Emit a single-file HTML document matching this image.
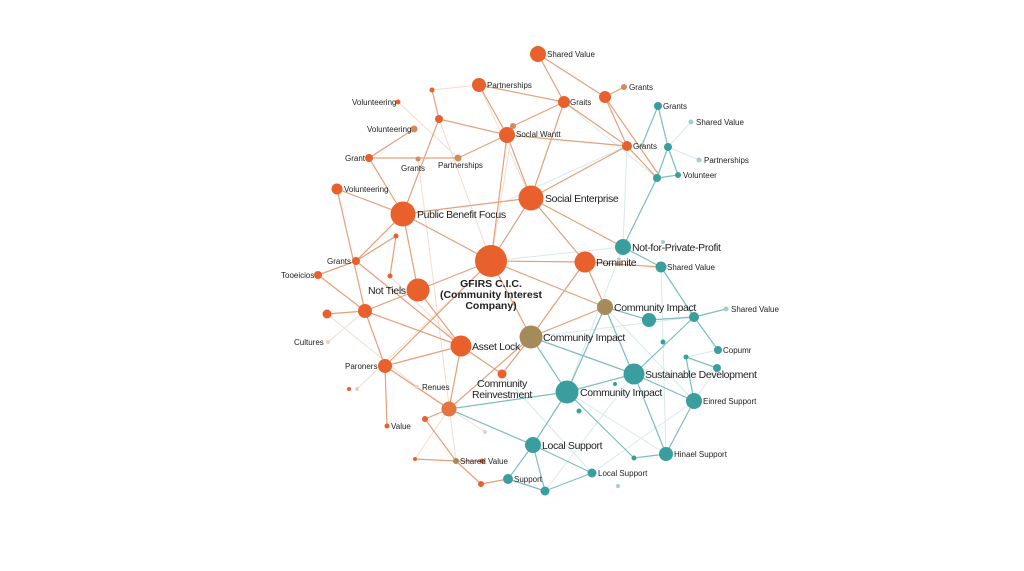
<!DOCTYPE html>
<html><head><meta charset="utf-8"><style>
html,body{margin:0;padding:0;background:#fff;}
svg{display:block;}
text{font-family:"Liberation Sans",sans-serif;fill:#222;}
.s{font-size:8px;}.m{font-size:10.5px;letter-spacing:-0.35px;}
</style></head><body>
<svg width="1024" height="571" viewBox="0 0 1024 571" xmlns="http://www.w3.org/2000/svg">
<rect width="1024" height="571" fill="#fff"/>
<g stroke-linecap="round" fill="none">
<g stroke="#f3ddd0" stroke-width="1">
<line x1="439" y1="119" x2="491" y2="261"/><line x1="432" y1="90" x2="479" y2="85"/>
<line x1="398" y1="102" x2="458" y2="158"/><line x1="418" y1="159" x2="456" y2="461"/>
<line x1="327" y1="314" x2="417" y2="387"/><line x1="390" y1="276" x2="461" y2="346"/>
<line x1="357" y1="389" x2="491" y2="261"/><line x1="417" y1="387" x2="485" y2="432"/>
<line x1="328" y1="342" x2="365" y2="311"/><line x1="415" y1="459" x2="449" y2="409"/>
<line x1="479" y1="85" x2="531" y2="198"/><line x1="513" y1="126" x2="491" y2="261"/>
</g>
<g stroke="#d6eaea" stroke-width="1">
<line x1="491" y1="261" x2="623" y2="247"/><line x1="564" y1="102" x2="657" y2="178"/>
<line x1="531" y1="337" x2="694" y2="317"/><line x1="627" y1="146" x2="623" y2="247"/>
<line x1="605" y1="307" x2="694" y2="401"/><line x1="661" y1="267" x2="666" y2="454"/>
<line x1="545" y1="491" x2="634" y2="374"/><line x1="592" y1="473" x2="694" y2="401"/>
<line x1="502" y1="374" x2="592" y2="473"/><line x1="567" y1="392" x2="666" y2="454"/>
<line x1="691" y1="122" x2="668" y2="147"/><line x1="699" y1="160" x2="668" y2="147"/>
<line x1="686" y1="357" x2="718" y2="350"/><line x1="717" y1="368" x2="694" y2="401"/>
<line x1="508" y1="200" x2="627" y2="146"/><line x1="567" y1="392" x2="623" y2="247"/>
</g>
<g stroke="#e59f7a" stroke-width="1.2">
<line x1="491" y1="261" x2="403" y2="214"/><line x1="491" y1="261" x2="531" y2="198"/>
<line x1="491" y1="261" x2="585" y2="262"/><line x1="491" y1="261" x2="418" y2="290"/>
<line x1="491" y1="261" x2="507" y2="135"/><line x1="491" y1="261" x2="605" y2="307"/>
<line x1="491" y1="261" x2="531" y2="337"/><line x1="403" y1="214" x2="531" y2="198"/>
<line x1="403" y1="214" x2="439" y2="119"/><line x1="403" y1="214" x2="369" y2="158"/>
<line x1="403" y1="214" x2="337" y2="189"/><line x1="403" y1="214" x2="356" y2="261"/>
<line x1="403" y1="214" x2="418" y2="290"/><line x1="531" y1="198" x2="507" y2="135"/>
<line x1="531" y1="198" x2="564" y2="102"/><line x1="531" y1="198" x2="627" y2="146"/>
<line x1="531" y1="198" x2="585" y2="262"/><line x1="531" y1="198" x2="623" y2="247"/>
<line x1="585" y1="262" x2="605" y2="307"/><line x1="585" y1="262" x2="531" y2="337"/>
<line x1="585" y1="262" x2="661" y2="267"/><line x1="418" y1="290" x2="365" y2="311"/>
<line x1="418" y1="290" x2="461" y2="346"/><line x1="356" y1="261" x2="318" y2="275"/>
<line x1="356" y1="261" x2="461" y2="346"/><line x1="365" y1="311" x2="327" y2="314"/>
<line x1="365" y1="311" x2="385" y2="366"/><line x1="365" y1="311" x2="461" y2="346"/>
<line x1="337" y1="189" x2="365" y2="311"/><line x1="385" y1="366" x2="461" y2="346"/>
<line x1="385" y1="366" x2="387" y2="426"/><line x1="385" y1="366" x2="491" y2="261"/>
<line x1="385" y1="366" x2="449" y2="409"/><line x1="461" y1="346" x2="502" y2="374"/>
<line x1="461" y1="346" x2="449" y2="409"/><line x1="531" y1="337" x2="605" y2="307"/>
<line x1="531" y1="337" x2="449" y2="409"/><line x1="502" y1="374" x2="531" y2="337"/>
<line x1="507" y1="135" x2="439" y2="119"/><line x1="507" y1="135" x2="627" y2="146"/>
<line x1="507" y1="135" x2="458" y2="158"/><line x1="507" y1="135" x2="479" y2="85"/>
<line x1="479" y1="85" x2="564" y2="102"/><line x1="538" y1="54" x2="564" y2="102"/>
<line x1="538" y1="54" x2="605" y2="97"/><line x1="564" y1="102" x2="513" y2="126"/>
<line x1="564" y1="102" x2="627" y2="146"/><line x1="605" y1="97" x2="627" y2="146"/>
<line x1="605" y1="97" x2="624" y2="87"/><line x1="605" y1="97" x2="661" y2="178"/>
<line x1="369" y1="158" x2="414" y2="129"/><line x1="369" y1="158" x2="458" y2="158"/>
<line x1="439" y1="119" x2="432" y2="90"/><line x1="627" y1="146" x2="657" y2="178"/>
<line x1="449" y1="409" x2="425" y2="419"/><line x1="425" y1="419" x2="456" y2="461"/>
<line x1="415" y1="459" x2="456" y2="461"/><line x1="456" y1="461" x2="482" y2="461"/>
<line x1="456" y1="461" x2="481" y2="484"/><line x1="481" y1="484" x2="508" y2="479"/>
<line x1="396" y1="236" x2="390" y2="276"/><line x1="356" y1="261" x2="396" y2="236"/>
<line x1="318" y1="275" x2="365" y2="311"/>
</g>
<g stroke="#7dbdbd" stroke-width="1.2">
<line x1="623" y1="247" x2="657" y2="178"/><line x1="657" y1="178" x2="668" y2="147"/>
<line x1="657" y1="178" x2="678" y2="175"/><line x1="668" y1="147" x2="658" y2="106"/>
<line x1="658" y1="106" x2="642" y2="145"/><line x1="668" y1="147" x2="678" y2="175"/>
<line x1="623" y1="247" x2="661" y2="267"/><line x1="661" y1="267" x2="694" y2="317"/>
<line x1="605" y1="307" x2="649" y2="320"/><line x1="649" y1="320" x2="694" y2="317"/>
<line x1="694" y1="317" x2="726" y2="309"/><line x1="694" y1="317" x2="634" y2="374"/>
<line x1="694" y1="317" x2="718" y2="350"/><line x1="531" y1="337" x2="567" y2="392"/>
<line x1="531" y1="337" x2="634" y2="374"/><line x1="567" y1="392" x2="634" y2="374"/>
<line x1="567" y1="392" x2="533" y2="445"/><line x1="567" y1="392" x2="449" y2="409"/>
<line x1="634" y1="374" x2="694" y2="401"/><line x1="634" y1="374" x2="666" y2="454"/>
<line x1="694" y1="401" x2="666" y2="454"/><line x1="694" y1="401" x2="686" y2="357"/>
<line x1="686" y1="357" x2="717" y2="368"/><line x1="666" y1="454" x2="634" y2="458"/>
<line x1="567" y1="392" x2="634" y2="458"/><line x1="533" y1="445" x2="449" y2="409"/>
<line x1="533" y1="445" x2="508" y2="479"/><line x1="533" y1="445" x2="545" y2="491"/>
<line x1="533" y1="445" x2="592" y2="473"/><line x1="545" y1="491" x2="592" y2="473"/>
<line x1="508" y1="479" x2="545" y2="491"/>
<line x1="605" y1="307" x2="633" y2="374"/><line x1="605" y1="307" x2="567" y2="392"/>
</g>
</g>
<g fill="#e8612c">
<circle cx="491" cy="261" r="16"/><circle cx="403" cy="214" r="12.5"/><circle cx="531" cy="198" r="12.5"/>
<circle cx="585" cy="262" r="10.5"/><circle cx="418" cy="290" r="11.5"/><circle cx="461" cy="346" r="10.5"/>
<circle cx="538" cy="54" r="8"/><circle cx="479" cy="85" r="7"/><circle cx="564" cy="102" r="6"/>
<circle cx="605" cy="97" r="6"/><circle cx="627" cy="146" r="5"/><circle cx="507" cy="135" r="8"/>
<circle cx="439" cy="119" r="4"/><circle cx="432" cy="90" r="2.5"/><circle cx="398" cy="102" r="2.5"/>
<circle cx="369" cy="158" r="4"/><circle cx="337" cy="189" r="5.5"/><circle cx="356" cy="261" r="4"/>
<circle cx="318" cy="275" r="4"/><circle cx="396" cy="236" r="2.5"/><circle cx="390" cy="276" r="2.5"/>
<circle cx="365" cy="311" r="7"/><circle cx="327" cy="314" r="4.5"/><circle cx="385" cy="366" r="7"/>
<circle cx="349" cy="389" r="2"/><circle cx="387" cy="426" r="2.5"/><circle cx="502" cy="374" r="4.5"/>
<circle cx="425" cy="419" r="3"/><circle cx="415" cy="459" r="2"/><circle cx="482" cy="461" r="2.5"/>
<circle cx="481" cy="484" r="3"/>
</g>
<circle cx="449" cy="409" r="7.5" fill="#e27540"/>
<g fill="#d48a5a"><circle cx="624" cy="87" r="3"/><circle cx="513" cy="126" r="3"/><circle cx="414" cy="129" r="3.5"/><circle cx="458" cy="158" r="3.5"/><circle cx="418" cy="159" r="2.5"/></g>
<g fill="#ecd0c0"><circle cx="328" cy="342" r="2"/><circle cx="357" cy="389" r="2"/><circle cx="417" cy="387" r="2"/><circle cx="485" cy="432" r="2"/></g>
<g fill="#a58b5a"><circle cx="531" cy="337" r="11.5"/><circle cx="605" cy="307" r="8"/><circle cx="456" cy="461" r="3"/></g>
<g fill="#3a9e9e">
<circle cx="567" cy="392" r="11.5"/><circle cx="634" cy="374" r="10.5"/><circle cx="694" cy="401" r="8"/>
<circle cx="666" cy="454" r="7"/><circle cx="649" cy="320" r="7"/><circle cx="694" cy="317" r="5"/>
<circle cx="718" cy="350" r="4"/><circle cx="717" cy="368" r="4"/><circle cx="623" cy="247" r="8"/>
<circle cx="661" cy="267" r="5.5"/><circle cx="658" cy="106" r="4"/><circle cx="668" cy="147" r="4"/>
<circle cx="657" cy="178" r="4"/><circle cx="678" cy="175" r="3"/><circle cx="533" cy="445" r="8"/>
<circle cx="592" cy="473" r="4.5"/><circle cx="508" cy="479" r="5"/><circle cx="545" cy="491" r="4.5"/>
<circle cx="634" cy="458" r="2.5"/><circle cx="579" cy="411" r="2.5"/><circle cx="663" cy="342" r="2.5"/>
<circle cx="686" cy="357" r="2.5"/><circle cx="615" cy="384" r="2"/>
</g>
<g fill="#9fcfcf"><circle cx="691" cy="122" r="2.5"/><circle cx="699" cy="160" r="2.5"/><circle cx="726" cy="309" r="2.5"/><circle cx="642" cy="145" r="2"/><circle cx="618" cy="486" r="2"/><circle cx="663" cy="242" r="2"/></g>
<g class="s">
<text x="547" y="57">Shared Value</text><text x="487" y="88">Partnerships</text><text x="570" y="105">Graits</text>
<text x="629" y="90">Grants</text><text x="633" y="149">Grants</text><text x="516" y="137">Soclal Wantt</text>
<text x="352" y="105">Volunteering</text><text x="367" y="132">Volunteering</text><text x="345" y="161">Grant</text>
<text x="401" y="171">Grants</text><text x="438" y="168">Partnerships</text><text x="344" y="192">Volunteering</text>
<text x="327" y="264">Grants</text><text x="281" y="278">Tooeicios</text><text x="294" y="345">Cultures</text>
<text x="345" y="369">Paroners</text><text x="422" y="390">Renues</text><text x="391" y="429">Value</text>
<text x="460" y="464">Shared Value</text><text x="514" y="482">Support</text><text x="598" y="476">Local Support</text>
<text x="663" y="109">Grants</text><text x="696" y="125">Shared Value</text><text x="704" y="163">Partnerships</text>
<text x="683" y="178">Volunteer</text><text x="667" y="270">Shared Value</text><text x="731" y="312">Shared Value</text>
<text x="723" y="353">Copumr</text><text x="703" y="404">Einred Support</text><text x="674" y="457">Hinael Support</text>
</g>
<g class="m">
<text x="417" y="218">Public Benefit Focus</text><text x="545" y="202">Social Enterprise</text>
<text x="596" y="266">Porniinite</text><text x="368" y="294">Not Tiels</text><text x="472" y="350">Asset Lock</text>
<text x="632" y="251">Not-for-Private-Profit</text><text x="614" y="311">Community Impact</text>
<text x="543" y="341">Community Impact</text><text x="580" y="396">Community Impact</text>
<text x="645" y="378">Sustainable Development</text><text x="542" y="449">Local Support</text>
<text x="502" y="387" text-anchor="middle">Community</text><text x="502" y="398" text-anchor="middle">Reinvestment</text>
</g>
<g font-size="10.5" font-weight="bold" text-anchor="middle">
<text x="491" y="287">GFIRS C.I.C.</text><text x="491" y="298">(Community Interest</text><text x="491" y="309">Company)</text>
</g>
</svg>
</body></html>
